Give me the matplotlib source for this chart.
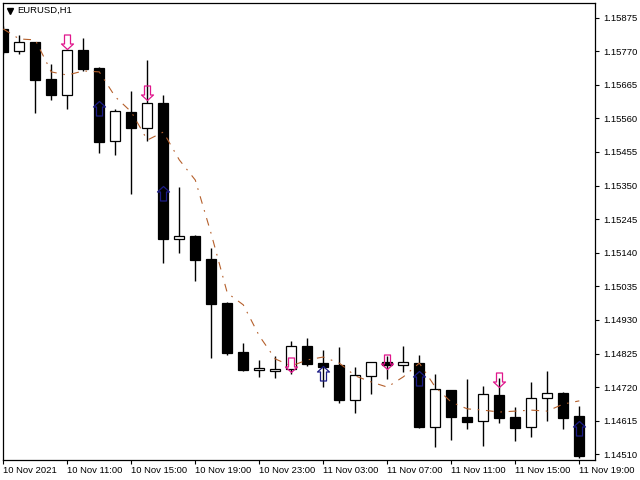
import matplotlib
matplotlib.use("Agg")
import matplotlib.pyplot as plt
from matplotlib.path import Path
import numpy as np

# ---- data (EURUSD, H1) ----
time_labels = ["10 Nov 2021", "10 Nov 11:00", "10 Nov 15:00", "10 Nov 19:00",
               "10 Nov 23:00", "11 Nov 03:00", "11 Nov 07:00", "11 Nov 11:00",
               "11 Nov 15:00", "11 Nov 19:00"]
opens = [1.15839, 1.15771, 1.15798, 1.15683, 1.15634, 1.15773, 1.15717, 1.15490,
         1.15580, 1.15529, 1.15608, 1.15184, 1.15192, 1.15120, 1.14983, 1.14830,
         1.14773, 1.14769, 1.14776, 1.14848, 1.14795, 1.14789, 1.14681, 1.14756,
         1.14799, 1.14790, 1.14795, 1.14596, 1.14711, 1.14627, 1.14613, 1.14695,
         1.14627, 1.14594, 1.14685, 1.14702, 1.14630]
highs = [1.15848, 1.15821, 1.15800, 1.15730, 1.15778, 1.15812, 1.15720, 1.15589,
         1.15645, 1.15742, 1.15633, 1.15345, 1.15195, 1.15155, 1.14985, 1.14857,
         1.14805, 1.14817, 1.14864, 1.14873, 1.14836, 1.14845, 1.14783, 1.14800,
         1.14816, 1.14848, 1.14820, 1.14761, 1.14712, 1.14745, 1.14723, 1.14748,
         1.14658, 1.14736, 1.14770, 1.14705, 1.14661]
lows = [1.15761, 1.15761, 1.15577, 1.15617, 1.15590, 1.15708, 1.15452, 1.15445,
        1.15324, 1.15489, 1.15109, 1.15140, 1.15052, 1.14812, 1.14821, 1.14771,
        1.14752, 1.14749, 1.14762, 1.14786, 1.14721, 1.14671, 1.14640, 1.14699,
        1.14746, 1.14768, 1.14593, 1.14534, 1.14555, 1.14590, 1.14537, 1.14608,
        1.14553, 1.14565, 1.14615, 1.14590, 1.14498]
closes = [1.15767, 1.15798, 1.15680, 1.15634, 1.15773, 1.15714, 1.15486, 1.15582,
          1.15531, 1.15607, 1.15184, 1.15192, 1.15118, 1.14981, 1.14828, 1.14774,
          1.14780, 1.14777, 1.14848, 1.14793, 1.14783, 1.14681, 1.14758, 1.14799,
          1.14790, 1.14798, 1.14595, 1.14713, 1.14627, 1.14612, 1.14698, 1.14624,
          1.14593, 1.14686, 1.14702, 1.14624, 1.14505]
ma_values = [1.15839, 1.15808, 1.15805, 1.15705, 1.15695, 1.15708, 1.15705, 1.15627,
             1.15580, 1.15492, 1.15517, 1.15430, 1.15367, 1.15198, 1.15014, 1.14977,
             1.14880, 1.14808, 1.14786, 1.14805, 1.14814, 1.14795, 1.14755, 1.14736,
             1.14720, 1.14752, 1.14795, 1.14720, 1.14673, 1.14652, 1.14648, 1.14642,
             1.14645, 1.14648, 1.14645, 1.14667, 1.14677]
sell_bars = [4, 9, 18, 24, 31]
sell_prices = [1.15775, 1.15616, 1.14766, 1.14776, 1.14721]
buy_bars = [6, 10, 20, 26, 36]
buy_prices = [1.15614, 1.15348, 1.14786, 1.14770, 1.14615]
price_ticks = [1.14510, 1.14615, 1.14720, 1.14825, 1.14930, 1.15035, 1.15140,
               1.15245, 1.15350, 1.15455, 1.15560, 1.15665, 1.15770, 1.15875]

FONT = ["Liberation Sans", "DejaVu Sans"]
plt.rcParams["font.family"] = FONT

fig = plt.figure(figsize=(6.4, 4.8), dpi=100)
W, H = 640, 480
ax_l, ax_r, ax_t, ax_b = 2.5, 594.5, 2.5, 459.5
ax = fig.add_axes([ax_l / W, 1 - ax_b / H, (ax_r - ax_l) / W, (ax_b - ax_t) / H])

n = len(opens)
x = np.arange(n)
o = np.array(opens); c = np.array(closes)
hi = np.array(highs); lo = np.array(lows)
bull = c >= o

# wicks
ax.vlines(x, lo, hi, color="black", lw=1.0, zorder=1)
# bodies
body_h = np.maximum(np.abs(c - o), 0.00002)
ax.bar(x, body_h, bottom=np.minimum(o, c), width=0.62,
       color=np.where(bull, "white", "black"), edgecolor="black", lw=0.9, zorder=2)

# moving average (dash-dot)
ax.plot(x, ma_values, color="#B5602C", lw=0.8, dashes=(7, 6, 1.5, 6), zorder=3)

# arrows (hollow)
down_verts = [(0, 0), (6, 5.5), (3, 5.5), (3, 14.5), (-3, 14.5), (-3, 5.5), (-6, 5.5), (0, 0)]
codes = [Path.MOVETO] + [Path.LINETO] * 6 + [Path.CLOSEPOLY]
down_path = Path(down_verts, codes)
up_path = Path([(vx, -vy) for vx, vy in down_verts], codes)
ms = 29 * 0.72
ax.plot(sell_bars, sell_prices, ls="none", marker=down_path, markersize=ms,
        markerfacecolor="none", markeredgecolor="#E0168C", markeredgewidth=0.9, zorder=4)
ax.plot(buy_bars, buy_prices, ls="none", marker=up_path, markersize=ms,
        markerfacecolor="none", markeredgecolor="#1C1C86", markeredgewidth=0.9, zorder=4)

# scales
px_per_bar = 16.0
ax.set_xlim(-(3.3 - ax_l) / px_per_bar, (ax_r - 3.3) / px_per_bar)
p_per_px = 0.00105 / 33.6
ax.set_ylim(1.15875 - (ax_b - 17.5) * p_per_px, 1.15875 + (17.5 - ax_t) * p_per_px)

ax.yaxis.tick_right()
ax.set_yticks(price_ticks)
ax.set_yticklabels([f"{p:.5f}" for p in price_ticks])
ax.tick_params(axis="y", direction="out", length=3, width=0.8, pad=3,
               labelsize=6.8, colors="black")
ax.set_xticks(np.arange(0, n, 4))
ax.set_xticklabels(time_labels, ha="left")
ax.tick_params(axis="x", direction="out", length=3, width=0.8, pad=2,
               labelsize=6.8, colors="black")
for lab in ax.get_xticklabels():
    lab.set_x(lab.get_position()[0])
for sp in ax.spines.values():
    sp.set_color("black"); sp.set_linewidth(0.9)

# title
ax.plot([0.012], [0.982], marker="v", color="black", markersize=4.5,
        transform=ax.transAxes, clip_on=False)
ax.text(0.025, 0.982, "EURUSD,H1", transform=ax.transAxes, fontsize=6.8,
        ha="left", va="center", color="black")

fig.savefig("out.png", dpi=100)
